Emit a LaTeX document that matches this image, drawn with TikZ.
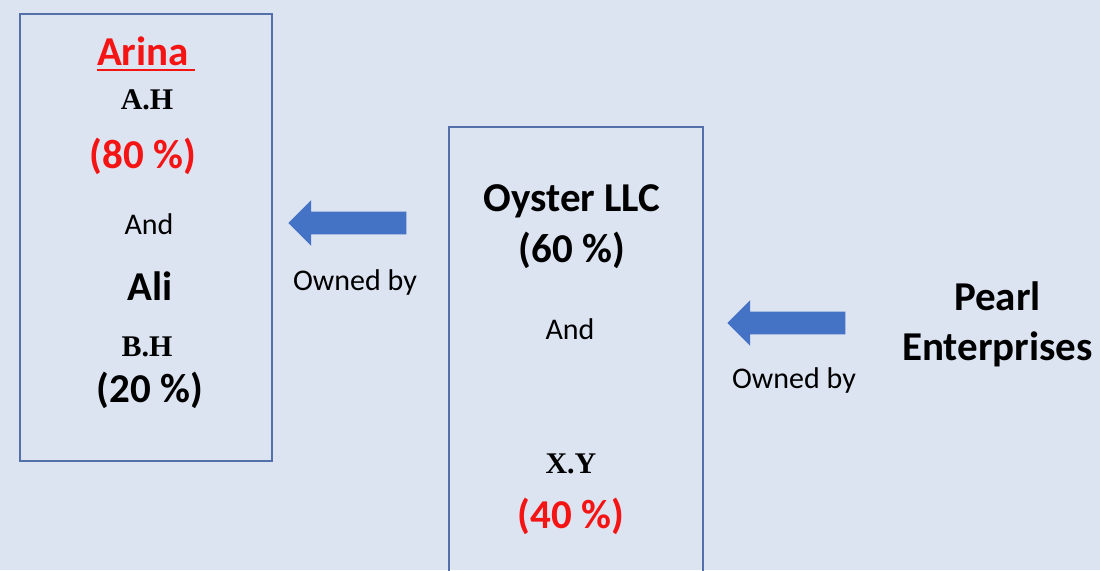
\documentclass[tikz,border=0pt]{standalone}
\usepackage{fontspec}
\setmainfont{Carlito}
\newfontfamily\tmsfont{Liberation Serif}
\usetikzlibrary{shapes.arrows}
\definecolor{bgcol}{RGB}{220,227,241}
\definecolor{boxcol}{RGB}{84,112,170}
\definecolor{arrcol}{RGB}{68,114,196}
\definecolor{pctred}{RGB}{245,20,20}
\tikzset{
  ownbox/.style={draw=boxcol,line width=1.3pt,inner sep=0pt},
  owner/.style={anchor=base,inner sep=0pt,font=\fontsize{20.5}{24}\selectfont\bfseries},
  initials/.style={anchor=base,inner sep=0pt,font=\fontsize{15}{18}\selectfont\tmsfont\bfseries},
  small/.style={anchor=base,inner sep=0pt,font=\fontsize{15}{18}\selectfont},
  ownarrow/.style={single arrow,shape border rotate=180,fill=arrcol,draw=none,
    inner xsep=0pt,inner ysep=5.5pt,single arrow head extend=5.75pt,minimum height=59pt}
}
\begin{document}
\begin{tikzpicture}[x=0.5pt,y=-0.5pt]
    \useasboundingbox (0,0) rectangle (1100,570);
    \fill[bgcol] (0,0) rectangle (1100,570);
    \clip (0,0) rectangle (1100,570);
    % left box
    \node[ownbox,minimum width=126pt,minimum height=223.5pt] (boxL) at (146,237.5) {};
    \node[owner,text=pctred] (arina) at (143,65) {Arina};
    \draw[pctred,line width=1pt] ([yshift=-2.5pt]arina.base west) -- ([yshift=-2.5pt,xshift=3pt]arina.base east);
    \node[initials] (ah) at (147,109) {A.H};
    \node[owner,text=pctred] (pctA) at (143,168) {(80 \%)};
    \node[small] (andL) at (149,234) {And};
    \node[owner] (ali) at (150,300) {Ali};
    \node[initials] (bh) at (147,356) {B.H};
    \node[owner] (pctB) at (150,402) {(20 \%)};
    % middle box
    \node[ownbox,minimum width=127pt,minimum height=240pt] (boxM) at (576,367) {};
    \node[owner] (oyster) at (572,211) {Oyster LLC};
    \node[owner] (pctO) at (572,262) {(60 \%)};
    \node[small] (andM) at (570,339) {And};
    \node[initials] (xy) at (571,473) {X.Y};
    \node[owner,text=pctred] (pctX) at (571,528) {(40 \%)};
    % arrows
    \node[ownarrow] (arrL) at (353,223) {};
    \node[small] (ownedL) at (355,290) {Owned by};
    \node[ownarrow] (arrM) at (792,323) {};
    \node[small] (ownedM) at (794,388) {Owned by};
    % right
    \node[owner] (pearl) at (997.5,310) {Pearl};
    \node[owner] (enterp) at (997.5,360) {Enterprises};
\end{tikzpicture}
\end{document}
